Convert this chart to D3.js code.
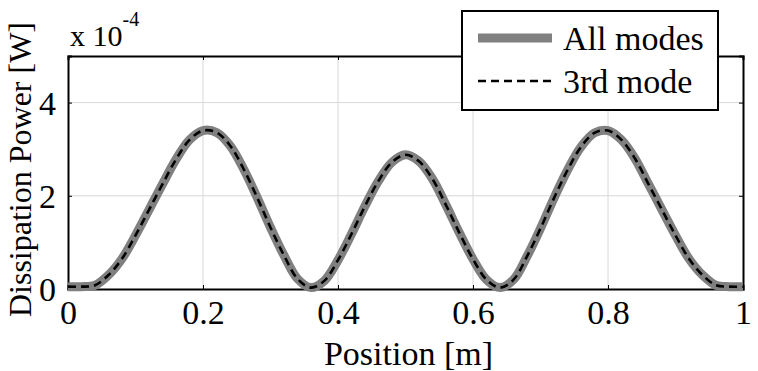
<!DOCTYPE html>
<html>
<head>
<meta charset="utf-8">
<script src="https://cdn.jsdelivr.net/npm/d3@7"></script>
<style>
body{margin:0;background:#fff;}
</style>
</head>
<body>
<div id="plot"></div>
<script>
// data (units of 1e-4 W)
var positions = [0,0.02,0.04,0.06,0.08,0.10,0.12,0.14,0.16,0.18,0.20,0.22,0.24,0.26,0.28,0.30,0.32,0.34,0.36,0.38,0.40,
  0.42,0.44,0.46,0.48,0.50,0.52,0.54,0.56,0.58,0.60,0.62,0.64,0.66,0.68,0.70,0.72,0.74,0.76,0.78,0.80,
  0.82,0.84,0.86,0.88,0.90,0.92,0.94,0.96,0.98,1.00];
var allModes = [0.05,0.05,0.08,0.3,0.65,1.15,1.7,2.25,2.78,3.2,3.4,3.36,3.08,2.58,1.97,1.32,0.72,0.22,0.03,0.18,0.62,
  1.18,1.78,2.32,2.72,2.88,2.74,2.36,1.8,1.2,0.64,0.2,0.03,0.2,0.7,1.3,1.95,2.55,3.05,3.35,3.4,
  3.2,2.8,2.25,1.7,1.15,0.65,0.3,0.08,0.05,0.05];
var thirdMode = allModes.slice();
var xTicks = [0,0.2,0.4,0.6,0.8,1];
var yTicks = [0,2,4];
var legendLabels = ['All modes','3rd mode'];

var serif = '"Liberation Serif", "Times New Roman", serif';

var W = 758, H = 371;
var margin = {t:56,r:15,b:82,l:68};
var width = W-margin.l-margin.r, height = H-margin.t-margin.b;

var svg = d3.select('#plot').append('svg').attr('width',W).attr('height',H);
var plot = svg.append('g').attr('transform','translate('+margin.l+','+margin.t+')');

var x = d3.scaleLinear().domain([0,1]).range([0,width]);
var y = d3.scaleLinear().domain([0,5]).range([height,0]);

// grid
plot.selectAll('.gx').data(xTicks.slice(1,-1)).enter().append('line')
  .attr('x1',d=>x(d)).attr('x2',d=>x(d)).attr('y1',0).attr('y2',height)
  .style('stroke','#d8d8d8').style('stroke-width',1);
plot.selectAll('.gy').data(yTicks.slice(1)).enter().append('line')
  .attr('x1',0).attr('x2',width).attr('y1',d=>y(d)).attr('y2',d=>y(d))
  .style('stroke','#d8d8d8').style('stroke-width',1);

// axes
var fs = 34;
var xAxis = plot.append('g').attr('transform','translate(0,'+height+')')
  .call(d3.axisBottom(x).tickValues(xTicks).tickSize(-4).tickPadding(9).tickFormat(d3.format('')));
var yAxis = plot.append('g')
  .call(d3.axisLeft(y).tickValues(yTicks).tickSize(-4).tickPadding(12).tickFormat(d3.format('')));
plot.append('g').call(d3.axisTop(x).tickValues(xTicks).tickSize(-4).tickFormat(''));
plot.append('g').attr('transform','translate('+width+',0)')
  .call(d3.axisRight(y).tickValues(yTicks).tickSize(-4).tickFormat(''));
plot.selectAll('.domain').style('stroke','#000').style('stroke-width',2);
plot.selectAll('.tick line').style('stroke','#000');
xAxis.selectAll('.tick text').attr('dy','0.75em');
yAxis.selectAll('.tick text').attr('dy','0.34em');

// lines
var line = d3.line().x((d,i)=>x(positions[i])).y(d=>y(d)).curve(d3.curveCatmullRom);
plot.append('path').datum(allModes).attr('d',line)
  .style('fill','none').style('stroke','#808080').style('stroke-width',9).style('stroke-linejoin','round');
plot.append('path').datum(thirdMode).attr('d',line)
  .style('fill','none').style('stroke','#000').style('stroke-width',2.6).style('stroke-dasharray','8,5');

// labels
svg.append('text').attr('x',margin.l+width/2+3).attr('y',H-6).attr('text-anchor','middle')
  .text('Position [m]');
svg.append('text').attr('class','yl').attr('transform','translate(31,'+(margin.t+height/2-3)+') rotate(-90)')
  .attr('text-anchor','middle').text('Dissipation Power [W]');
var ex = svg.append('text').attr('class','ex').attr('x',70).attr('y',46);
ex.append('tspan').text('x 10');
ex.append('tspan').attr('dy',-20).style('font-size','20px').text('-4');

// legend
var lg = svg.append('g');
lg.append('rect').attr('x',462).attr('y',11).attr('width',256).attr('height',99)
  .style('fill','#fff').style('stroke','#000').style('stroke-width',2);
lg.append('line').attr('x1',478).attr('x2',552).attr('y1',38).attr('y2',38)
  .style('stroke','#808080').style('stroke-width',9);
lg.append('line').attr('x1',478).attr('x2',552).attr('y1',81).attr('y2',81)
  .style('stroke','#000').style('stroke-width',2.6).style('stroke-dasharray','8,5');
lg.selectAll('.lt').data(legendLabels).enter().append('text')
  .attr('x',563).attr('y',(d,i)=>50+i*43).text(d=>d);

svg.selectAll('text')
  .attr('font-family',serif)
  .style('font-family',serif)
  .style('font-size',fs+'px')
  .style('fill','#000');
svg.select('.ex').style('font-size','30px');
svg.select('.yl').style('font-size','32px');
</script>
</body>
</html>
